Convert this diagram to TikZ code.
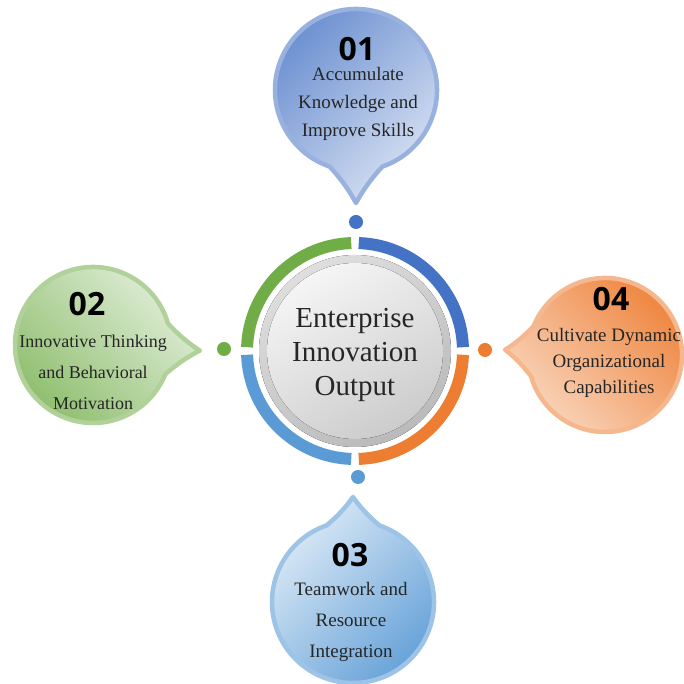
\documentclass[tikz,border=0pt]{standalone}
\usepackage{fontspec}
\setmainfont{Liberation Serif}
\newfontfamily\numfont{Open Sans}
\usetikzlibrary{calc}

\definecolor{ringblue}{HTML}{4472C4}
\definecolor{ringgreen}{HTML}{70AD47}
\definecolor{ringsky}{HTML}{5B9BD5}
\definecolor{ringorange}{HTML}{ED7D31}
\definecolor{txt}{HTML}{262626}

% speech balloon: #1,#2 centre, #3 radius, #4 tail direction, #5 tail length,
% #6 rim colour, #7 top colour, #8 bottom colour, #9 shading angle
\newcommand{\speechballoon}[9]{%
  \begin{scope}[shift={(#1,#2)}, rotate=#4]
    \path[draw=#6, line width=4.5pt, line join=round,
          top color=#7, bottom color=#8, shading angle=#9]
      (19:#3) arc[start angle=19, end angle=341, radius=#3]
      .. controls ({#3*cos(19)+0.35*(#5-#3*cos(19))},{-0.55*#3*sin(19)})
         and ({#3*cos(19)+0.7*(#5-#3*cos(19))},{-0.22*#3*sin(19)}) .. (#5,0)
      .. controls ({#3*cos(19)+0.7*(#5-#3*cos(19))},{0.22*#3*sin(19)})
         and ({#3*cos(19)+0.35*(#5-#3*cos(19))},{0.55*#3*sin(19)}) .. cycle;
  \end{scope}}

\tikzset{
  numlabel/.style={text=black, font=\numfont\bfseries\fontsize{32}{32}\selectfont,
    inner sep=0pt, text height=23pt, text depth=0pt},
  balloontext/.style 2 args={text=txt, align=center, inner sep=0pt,
    font=\fontsize{#1}{#2}\selectfont},
  ringseg/.style={line width=12pt},
  dotmark/.style={circle, fill=#1, minimum size=14pt, inner sep=0pt},
}

\begin{document}
\begin{tikzpicture}[x=1pt,y=1pt]
\useasboundingbox (0,0) rectangle (683,684);
\fill[white] (0,0) rectangle (683,684);

% the four balloons
\speechballoon{356}{594}{81}{-90}{113}{ringblue!55}{ringblue!80}{ringblue!20}{45}
\speechballoon{93}{339}{78}{-3}{107}{ringgreen!55}{ringgreen!20}{ringgreen!80}{-45}
\speechballoon{605}{329}{77}{177}{100}{ringorange!55}{ringorange!95}{ringorange!30}{-45}
\speechballoon{353}{82}{81}{90}{105}{ringsky!60}{ringsky!20}{ringsky!95}{45}

% central ring
\coordinate (ctr) at (355,333);
\draw[ringseg, ringblue]   ($(ctr)+(2:108)$)   arc[start angle=2,   end angle=88,  radius=108];
\draw[ringseg, ringgreen]  ($(ctr)+(92:108)$)  arc[start angle=92,  end angle=178, radius=108];
\draw[ringseg, ringsky]    ($(ctr)+(182:108)$) arc[start angle=182, end angle=268, radius=108];
\draw[ringseg, ringorange] ($(ctr)+(272:108)$) arc[start angle=272, end angle=358, radius=108];

% grey disc
\fill[top color=black!13, bottom color=black!27, shading angle=30] (ctr) circle[radius=96];
\fill[top color=black!4, bottom color=black!20, shading angle=30] (ctr) circle[radius=88];

\node[text=txt, align=center, inner sep=0pt, font=\fontsize{29}{34}\selectfont]
  (core) at (355,329) {Enterprise\\Innovation\\Output};

% dots
\node[dotmark=ringblue]   (d1) at (356,462) {};
\node[dotmark=ringgreen]  (d2) at (224,335) {};
\node[dotmark=ringsky]    (d3) at (358,207) {};
\node[dotmark=ringorange] (d4) at (485,334) {};

% labels
\node[numlabel] (n1) at (357,635) {01};
\node[balloontext={19}{28}] (t1) at (358,580) {Accumulate\\Knowledge and\\Improve Skills};

\node[numlabel] (n2) at (87,380) {02};
\node[balloontext={18}{31}] (t2) at (93,312) {Innovative Thinking\\and Behavioral\\Motivation};

\node[numlabel] (n3) at (350,129) {03};
\node[balloontext={19}{31}] (t3) at (351,62) {Teamwork and\\Resource\\Integration};

\node[numlabel] (n4) at (611,385) {04};
\node[balloontext={19}{26}] (t4) at (609,321) {Cultivate Dynamic\\Organizational\\Capabilities};
\end{tikzpicture}
\end{document}
